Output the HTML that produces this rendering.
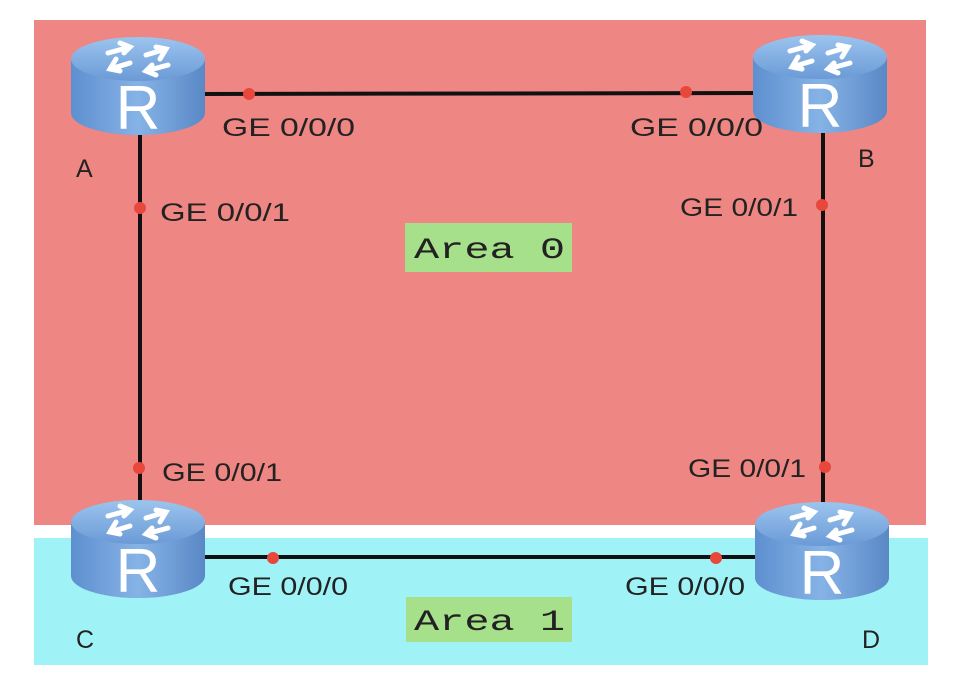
<!DOCTYPE html>
<html><head><style>
body{margin:0;background:#fff;width:958px;height:688px;overflow:hidden;}
</style></head><body>
<svg width="958" height="688" viewBox="0 0 958 688" xmlns="http://www.w3.org/2000/svg">
<defs>
<linearGradient id="body" x1="0" x2="1" y1="0" y2="0">
<stop offset="0" stop-color="#5e8fcf"/><stop offset="0.5" stop-color="#86b3e6"/><stop offset="1" stop-color="#5a88c6"/>
</linearGradient>
<linearGradient id="top" x1="0" x2="0" y1="0" y2="1">
<stop offset="0" stop-color="#9cc4ee"/><stop offset="1" stop-color="#6b9ad6"/>
</linearGradient>
<g id="router">
<path d="M-67,-24 L-67,30 A67,22 0 0 0 67,30 L67,-24 Z" fill="url(#body)"/>
<ellipse cx="0" cy="-24" rx="67" ry="22" fill="url(#top)"/>
<g stroke="#fff" stroke-width="5" fill="none" stroke-linecap="round">
<path d="M-30,-30 L-8,-36 M-18,-40 L-8,-36 L-14,-30"/>
<path d="M30,-18 L8,-12 M18,-8 L8,-12 L14,-18"/>
<path d="M-28,-14 L-8,-20 M-22,-24 L-28,-14 L-18,-12"/>
<path d="M28,-34 L8,-28 M22,-24 L28,-34 L18,-36"/>
</g>
<text x="0" y="46" text-anchor="middle" font-family="Liberation Sans, sans-serif" font-size="62" fill="#fff">R</text>
</g>
</defs>
<rect x="34" y="20" width="892" height="505" fill="#ee8683"/>
<rect x="34" y="538" width="894" height="127" fill="#9ff3f7"/>
<g stroke="#111" stroke-width="4">
<line x1="200" y1="94" x2="760" y2="93"/>
<line x1="140" y1="130" x2="140" y2="505"/>
<line x1="823" y1="130" x2="823" y2="505"/>
<line x1="200" y1="557" x2="760" y2="557"/>
</g>
<use href="#router" x="138" y="83"/>
<use href="#router" x="820" y="81"/>
<use href="#router" x="138" y="546"/>
<use href="#router" x="822" y="548"/>
<g fill="#e8473c">
<circle cx="249" cy="94" r="6"/><circle cx="686" cy="92" r="6"/>
<circle cx="140" cy="208" r="6"/><circle cx="822" cy="205" r="6"/>
<circle cx="139" cy="468" r="6"/><circle cx="825" cy="467" r="6"/>
<circle cx="273" cy="558" r="6"/><circle cx="716" cy="558" r="6"/>
</g>
<g font-family="Liberation Sans, sans-serif" font-size="25" fill="#222" lengthAdjust="spacingAndGlyphs">
<text x="222" y="136" textLength="133" lengthAdjust="spacingAndGlyphs">GE 0/0/0</text>
<text x="630" y="136" textLength="133" lengthAdjust="spacingAndGlyphs">GE 0/0/0</text>
<text x="160" y="221" textLength="130" lengthAdjust="spacingAndGlyphs">GE 0/0/1</text>
<text x="680" y="216" textLength="118" lengthAdjust="spacingAndGlyphs">GE 0/0/1</text>
<text x="162" y="481" textLength="120" lengthAdjust="spacingAndGlyphs">GE 0/0/1</text>
<text x="688" y="477" textLength="118" lengthAdjust="spacingAndGlyphs">GE 0/0/1</text>
<text x="228" y="595" textLength="120" lengthAdjust="spacingAndGlyphs">GE 0/0/0</text>
<text x="625" y="595" textLength="120" lengthAdjust="spacingAndGlyphs">GE 0/0/0</text>
<text x="76" y="177">A</text>
<text x="858" y="167">B</text>
<text x="76" y="648">C</text>
<text x="862" y="648">D</text>
</g>
<rect x="405" y="223" width="167" height="49" fill="#a6e08a"/>
<rect x="406" y="597" width="166" height="45" fill="#a6e08a"/>
<g font-family="Liberation Mono, monospace" font-size="30" fill="#222">
<text x="414" y="258" textLength="151" lengthAdjust="spacingAndGlyphs">Area 0</text>
<text x="414" y="630" textLength="151" lengthAdjust="spacingAndGlyphs">Area 1</text>
</g>
</svg>
</body></html>
